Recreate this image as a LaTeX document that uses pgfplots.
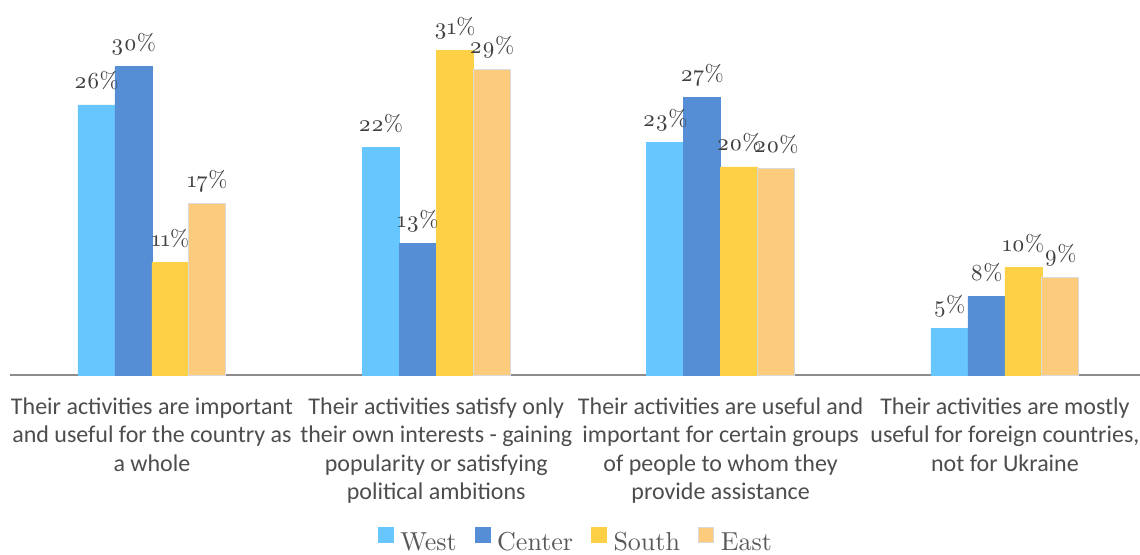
\documentclass[border=0pt]{standalone}
\usepackage{fontspec}
\newfontfamily\carlito{Carlito}
\newfontfamily\lmosf{lmroman10-regular}[Extension=.otf,Numbers=OldStyle]
\usepackage{pgfplots}
\pgfplotsset{compat=1.18}
\definecolor{cWest}{HTML}{66C6FD}
\definecolor{cCenter}{HTML}{558ED5}
\definecolor{cSouth}{HTML}{FDD046}
\definecolor{cEast}{HTML}{FDCB7C}
\definecolor{labgray}{HTML}{404040}
\definecolor{catgray}{HTML}{4D4D4D}
\definecolor{leggray}{HTML}{595959}
\definecolor{axgray}{HTML}{8C8C8C}
\begin{document}
\begin{tikzpicture}
\useasboundingbox (-9.8pt,-179pt) rectangle (1130.2pt,375pt);
\begin{axis}[
  at={(0pt,0pt)}, anchor=south west,
  scale only axis, width=1130.2pt, height=372.6pt,
  ymin=0, ymax=36, xmin=-0.5, xmax=3.475,
  axis y line=none, axis x line*=bottom,
  x axis line style={draw=axgray, line width=2pt},
  xtick={0,1,2,3}, major tick length=0pt,
  xticklabels={
    {Their activities are important\\and useful for the country as\\a whole},
    {Their activities satisfy only\\their own interests - gaining\\popularity or satisfying\\political ambitions},
    {Their activities are useful and\\important for certain groups\\of people to whom they\\provide assistance},
    {Their activities are mostly\\useful for foreign countries,\\not for Ukraine}},
  xticklabel style={font=\carlito\fontsize{24}{28.5}\selectfont, align=center, text=catgray, anchor=north, yshift=-19pt},
  ybar=0pt, bar width=37pt,
  point meta=explicit symbolic,
  nodes near coords={\pgfplotspointmeta\%},
  every node near coord/.append style={font=\lmosf\fontsize{23}{26}\selectfont, text=labgray, anchor=base, yshift=16pt, inner sep=0pt},
  legend style={at={(0.5001,-0.441)}, anchor=center, draw=none, legend columns=-1,
    font=\lmosf\fontsize{26}{30}\selectfont, text=leggray,
    nodes={inner sep=0pt},
    /tikz/every odd column/.append style={column sep=7pt},
    /tikz/every even column/.append style={column sep=18pt}},
  legend image code/.code={\fill[#1] (0pt,0pt) rectangle (15pt,15pt);},
]
\addplot[fill=cWest, draw=cWest] coordinates {(0,26.1) [26] (1,22.0) [22] (2,22.5) [23] (3,4.5) [5]};
\addplot[fill=cCenter, draw=cCenter] coordinates {(0,29.8) [30] (1,12.7) [13] (2,26.8) [27] (3,7.6) [8]};
\addplot[fill=cSouth, draw=cSouth] coordinates {(0,10.9) [11] (1,31.4) [31] (2,20.1) [20] (3,10.4) [10]};
\addplot[fill=cEast, draw=black!15, line width=1pt] coordinates {(0,16.6) [17] (1,29.5) [29] (2,20.0) [20] (3,9.4) [9]};
\legend{West, Center, South, East}
\end{axis}
\end{tikzpicture}
\end{document}
